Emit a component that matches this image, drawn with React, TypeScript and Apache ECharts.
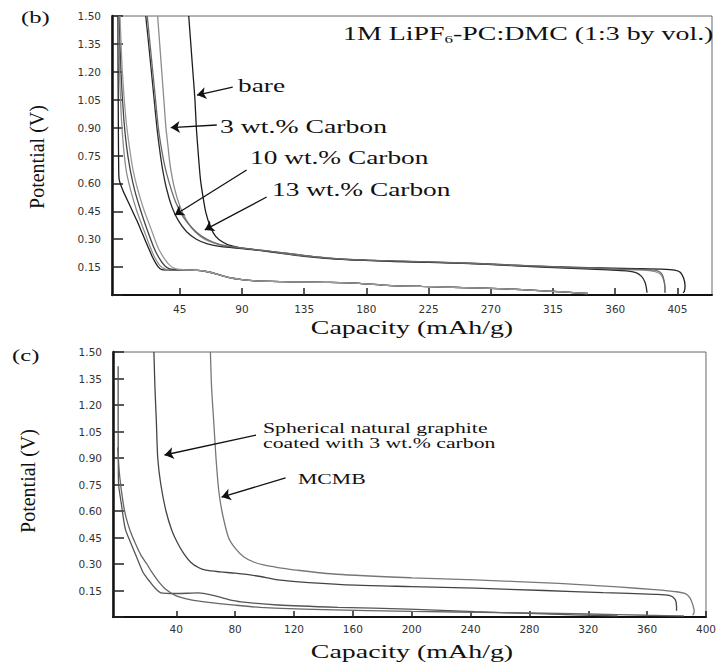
import React, { useEffect, useRef } from "react";
import * as echarts from "echarts";

// ---------- Panel (b) data: [capacity mAh/g, potential V] ----------
const bXTicks = [45, 90, 135, 180, 225, 270, 315, 360, 405];
const cXTicks = [40, 80, 120, 160, 200, 240, 280, 320, 360, 400];

const bBare = [[51.5,1.5],[53,1.35],[54.5,1.2],[56,1.05],[57,0.9],[58.5,0.75],[60,0.62],[62,0.52],[64,0.44],[67,0.37],[71,0.315],[76,0.285],[82,0.265],[90,0.252],[105,0.24],[125,0.222],[150,0.2],[180,0.187],[220,0.178],[260,0.17],[300,0.156],[340,0.147],[375,0.142],[393,0.139],[403,0.134],[407,0.122],[409.5,0.09],[410.5,0.05],[410,0.02],[409,0.012]];
const bWt3 = [[29,1.5],[30.5,1.35],[32,1.2],[33.5,1.05],[35,0.9],[36.5,0.8],[38,0.7],[41,0.58],[45,0.48],[50,0.4],[56,0.34],[63,0.3],[72,0.273],[82,0.258],[95,0.248],[110,0.235],[135,0.212],[165,0.193],[200,0.182],[250,0.171],[285,0.16],[320,0.148],[360,0.138],[383,0.133],[389,0.125],[393,0.11],[395,0.08],[396,0.04],[396,0.012]];
const bWt10 = [[20.4,1.5],[22.5,1.35],[24.5,1.2],[26.5,1.05],[28.5,0.9],[30.5,0.78],[32.5,0.68],[35.5,0.57],[39.5,0.47],[44,0.4],[50,0.34],[57,0.3],[65,0.275],[75,0.26],[90,0.25],[110,0.232],[135,0.208],[165,0.19],[200,0.18],[250,0.17],[285,0.158],[320,0.146],[355,0.135],[368,0.13],[375,0.12],[379,0.1],[381.5,0.07],[382.5,0.04],[383,0.012]];
const bWt13 = [[21.5,1.5],[23.5,1.35],[25.5,1.2],[27.5,1.05],[29.5,0.9],[31.5,0.8],[34,0.7],[37.5,0.6],[42,0.5],[47.5,0.42],[54,0.36],[61,0.315],[69,0.285],[78,0.265],[90,0.252],[110,0.234],[135,0.21],[165,0.192],[200,0.183],[250,0.172],[285,0.16],[320,0.15],[360,0.14],[385,0.136],[391,0.128],[394,0.11],[395.5,0.07],[396,0.03],[396,0.012]];

const bTail = [[50,0.135],[58,0.132],[65,0.125],[72,0.112],[80,0.095],[90,0.083],[100,0.076],[120,0.072],[150,0.068],[175,0.063],[195,0.052],[220,0.046],[250,0.04],[280,0.033],[305,0.024],[325,0.015],[340,0.008]];
const bLow1 = [[0.3,1.5],[0.4,1.2],[0.6,0.9],[0.8,0.7],[1.2,0.62],[4,0.56],[9,0.48],[14,0.4],[18,0.33],[22,0.26],[25.5,0.2],[29,0.155],[32,0.136],[40,0.134]];
const bLow2 = [[0.8,1.5],[1.5,1.2],[2.8,0.95],[4.5,0.78],[6.5,0.66],[10,0.55],[14,0.45],[19,0.35],[23,0.27],[27,0.2],[31,0.155],[35,0.138],[42,0.135]];
const bLow3 = [[1.2,1.5],[2.5,1.2],[4.5,0.95],[6.5,0.8],[9,0.68],[12.5,0.56],[16.5,0.46],[21,0.36],[26,0.26],[30,0.2],[34.5,0.155],[38,0.14],[44,0.136]];
const bLow4 = [[1.8,1.5],[3.5,1.2],[6,0.95],[8.5,0.8],[11,0.68],[14.5,0.57],[19,0.46],[24,0.36],[29,0.26],[33.5,0.2],[38,0.158],[42,0.142],[46,0.137]];

// ---------- Panel (c) data ----------
const cSpherical = [[24.8,1.5],[25.5,1.3],[26.5,1.1],[27.4,0.9],[29.5,0.75],[33,0.6],[37,0.49],[40.8,0.42],[45,0.36],[49.8,0.31],[55,0.28],[60,0.265],[70,0.255],[80,0.248],[95,0.232],[109,0.21],[130,0.195],[162,0.18],[200,0.172],[243,0.163],[290,0.15],[330,0.138],[365,0.128],[375,0.122],[379,0.1],[380,0.06],[380,0.035]];
const cMCMB = [[63.2,1.5],[64,1.3],[65.5,1.1],[67,0.9],[68.8,0.72],[71,0.6],[75.5,0.45],[80,0.39],[86,0.34],[93,0.31],[100,0.293],[109,0.28],[122,0.265],[149,0.242],[200,0.222],[243,0.21],[300,0.19],[340,0.17],[365,0.155],[380,0.143],[386,0.132],[389,0.11],[391,0.07],[392,0.03],[391,0.01]];
const cLowA = [[0.5,1.42],[0.5,1.1],[0.6,0.85],[0.8,0.75],[2.5,0.65],[5.3,0.5],[9,0.42],[13,0.34],[17.3,0.255],[22,0.2],[26,0.16],[29.5,0.137],[40,0.133],[55,0.136],[65,0.122],[75,0.1],[84,0.086],[109,0.068],[150,0.055],[198,0.045],[243,0.03],[280,0.02],[310,0.012],[340,0.006]];
const cLowB = [[0.2,0.96],[1.5,0.8],[4,0.64],[6,0.56],[8.6,0.49],[12,0.42],[16,0.35],[20,0.3],[23.3,0.255],[28,0.2],[33,0.155],[40,0.12],[50,0.097],[62,0.083],[80,0.067],[100,0.053],[140,0.042],[200,0.032],[260,0.025],[320,0.017],[360,0.01],[385,0.006]];

// arrows: [from, to] in data coordinates
const bArrows = [
  [[83.3, 1.118], [57.5, 1.075]],
  [[71.8, 0.914], [38.5, 0.9]],
  [[93.4, 0.672], [41.4, 0.43]],
  [[107.9, 0.527], [63.1, 0.35]],
];
const cArrows = [
  [[94.2, 1.03], [32, 0.917]],
  [[114.3, 0.787], [70.8, 0.679]],
];

const SERIF = '"Liberation Serif", "Times New Roman", serif';
const TICKFONT = '"DejaVu Sans", sans-serif';

function lineSeries(name: string, data: number[][], color: string, gi: number, extra: any = {}) {
  return {
    type: "line",
    name,
    data,
    xAxisIndex: gi,
    yAxisIndex: gi,
    showSymbol: false,
    symbol: "none",
    smooth: 0.25,
    clip: true,
    lineStyle: { color, width: 1.3 },
    silent: true,
    ...extra,
  };
}

function arrowMark(arrows: number[][][]) {
  return {
    silent: true,
    symbol: ["none", "arrow"],
    symbolSize: 9,
    lineStyle: { color: "#111", width: 1.3, type: "solid" },
    label: { show: false },
    emphasis: { disabled: true },
    data: arrows.map(([a, b]) => [{ coord: a }, { coord: b }]),
  };
}

function xAxisCfg(gi: number, min: number, max: number, ticks: number[], margin: number, tickLen: number) {
  return {
    type: "value",
    gridIndex: gi,
    min,
    max,
    splitLine: { show: false },
    axisLine: { show: true, onZero: false, lineStyle: { color: "#111", width: 2 } },
    axisTick: { show: true, inside: true, length: tickLen, customValues: ticks, lineStyle: { color: "#222", width: 1.5 } },
    axisLabel: { customValues: ticks, margin, fontFamily: TICKFONT, fontSize: 10.5, color: "#333" },
  };
}

function yAxisCfg(gi: number) {
  return {
    type: "value",
    gridIndex: gi,
    min: 0,
    max: 1.5,
    interval: 0.15,
    splitLine: { show: false },
    axisLine: { show: true, onZero: false, lineStyle: { color: "#111", width: 2.5 } },
    axisTick: { show: true, inside: true, length: 11, lineStyle: { color: "#222", width: 1.5 } },
    axisLabel: {
      margin: 11,
      fontFamily: TICKFONT,
      fontSize: 10.5,
      color: "#333",
      formatter: (v: number) => (Math.abs(v) < 1e-9 ? "" : v.toFixed(2)),
    },
  };
}

function txt(text: string, x: number, y: number, size: number, opts: any = {}) {
  const { align = "left", scaleX = 1.52, rotation = 0, rich } = opts;
  return {
    type: "text",
    x,
    y,
    scaleX,
    rotation,
    silent: true,
    style: {
      text,
      fill: "#111",
      fontFamily: SERIF,
      fontSize: size,
      textAlign: align,
      align,
      textVerticalAlign: "middle",
      verticalAlign: "middle",
      ...(rich ? { rich } : {}),
    },
  };
}

const option: any = {
  animation: false,
  backgroundColor: "#fff",
  grid: [
    { left: 112, top: 16, width: 600, height: 279, show: true, borderColor: "#666", borderWidth: 1, backgroundColor: "transparent" },
    { left: 113, top: 352, width: 601, height: 265, show: true, borderColor: "#666", borderWidth: 1, backgroundColor: "transparent" },
  ],
  xAxis: [xAxisCfg(0, -4, 430, bXTicks, 8, 7), xAxisCfg(1, -3, 400, cXTicks, 6, 6)],
  yAxis: [yAxisCfg(0), yAxisCfg(1)],
  series: [
    lineSeries("bare", bBare, "#1c1c1c", 0, { markLine: arrowMark(bArrows) }),
    lineSeries("3 wt.% Carbon", bWt3, "#8c8c8c", 0),
    lineSeries("10 wt.% Carbon", bWt10, "#2a2a2a", 0),
    lineSeries("13 wt.% Carbon", bWt13, "#6a6a6a", 0),
    lineSeries("bare-low", bLow1.concat(bTail), "#1c1c1c", 0),
    lineSeries("3-low", bLow2.concat(bTail), "#8c8c8c", 0),
    lineSeries("10-low", bLow3.concat(bTail), "#444", 0),
    lineSeries("13-low", bLow4.concat(bTail), "#9a9a9a", 0),
    lineSeries("Spherical natural graphite", cSpherical, "#444", 1, { markLine: arrowMark(cArrows) }),
    lineSeries("MCMB", cMCMB, "#777", 1),
    lineSeries("Spherical-low", cLowA, "#555", 1),
    lineSeries("MCMB-low", cLowB, "#666", 1),
  ],
  graphic: [
    txt("(b)", 21, 17, 17, { scaleX: 1.45 }),
    txt("1M LiPF{s|6}-PC:DMC (1:3 by vol.)", 343, 34, 18, {
      scaleX: 1.55,
      rich: { s: { fontSize: 11, fontFamily: SERIF, fill: "#111", verticalAlign: "bottom", lineHeight: 22 } },
    }),
    txt("bare", 238, 86, 18),
    txt("3 wt.% Carbon", 220, 127, 18, { scaleX: 1.54 }),
    txt("10 wt.% Carbon", 250, 158, 18),
    txt("13 wt.% Carbon", 272, 190, 18),
    txt("Capacity (mAh/g)", 412, 328, 19, { align: "center", scaleX: 1.47 }),
    txt("Potential (V)", 37, 157, 20, { align: "center", scaleX: 1, rotation: Math.PI / 2 }),
    txt("(c)", 12, 355, 17, { scaleX: 1.45 }),
    txt("Spherical natural graphite", 263, 428, 15, { scaleX: 1.45 }),
    txt("coated with 3 wt.% carbon", 263, 443, 15, { scaleX: 1.45 }),
    txt("MCMB", 298, 479, 15, { scaleX: 1.45 }),
    txt("Capacity (mAh/g)", 412, 652, 19, { align: "center", scaleX: 1.47 }),
    txt("Potential (V)", 28, 481, 20, { align: "center", scaleX: 1, rotation: Math.PI / 2 }),
  ],
};

export default function App() {
  const ref = useRef<HTMLDivElement>(null);
  useEffect(() => {
    if (!ref.current) return;
    const chart = echarts.init(ref.current, null, { renderer: "svg" });
    chart.setOption(option);
    return () => chart.dispose();
  }, []);
  return (
    <div
      ref={ref}
      style={{ position: "fixed", left: 0, top: 0, width: 719, height: 665, background: "#fff" }}
    />
  );
}
